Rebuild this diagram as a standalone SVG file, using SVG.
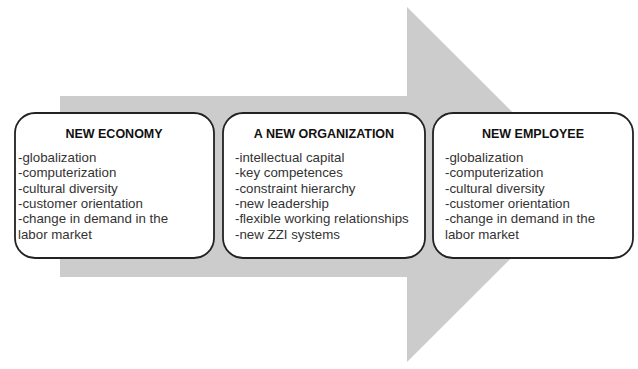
<svg xmlns="http://www.w3.org/2000/svg" width="638" height="369" viewBox="0 0 638 369">
<style>
.box{fill:#fff;stroke:#222;stroke-width:1.8}
.t{font-family:"Liberation Sans",Arial,sans-serif;font-size:12.5px;font-weight:bold;fill:#111;text-anchor:middle}
.i{font-family:"Liberation Sans",Arial,sans-serif;font-size:13.3px;fill:#333}
</style>
<rect width="638" height="369" fill="#fff"/>
<g id="arrow">
<polygon points="60,96 407,96 407,7 585,184.5 407,362 407,277 60,277" fill="#cccccc"/>
</g>
<g id="connectors"></g>
<g id="new-economy">
<rect class="box" x="15" y="113" width="199" height="145" rx="20"/>
<text class="t" x="114" y="138">NEW ECONOMY</text>
<text class="i" x="18" y="162">-globalization</text>
<text class="i" x="18" y="177.3">-computerization</text>
<text class="i" x="18" y="192.6">-cultural diversity</text>
<text class="i" x="18" y="207.9">-customer orientation</text>
<text class="i" x="18" y="223.2">-change in demand in the</text>
<text class="i" x="18" y="238.5">labor market</text>
</g>
<g id="new-organization">
<rect class="box" x="223" y="113" width="202" height="145" rx="20"/>
<text class="t" x="324" y="138">A NEW ORGANIZATION</text>
<text class="i" x="235" y="162">-intellectual capital</text>
<text class="i" x="235" y="177.3">-key competences</text>
<text class="i" x="235" y="192.6">-constraint hierarchy</text>
<text class="i" x="235" y="207.9">-new leadership</text>
<text class="i" x="235" y="223.2">-flexible working relationships</text>
<text class="i" x="235" y="238.5">-new ZZI systems</text>
</g>
<g id="new-employee">
<rect class="box" x="433" y="113" width="200" height="145" rx="20"/>
<text class="t" x="533" y="138">NEW EMPLOYEE</text>
<text class="i" x="445" y="162">-globalization</text>
<text class="i" x="445" y="177.3">-computerization</text>
<text class="i" x="445" y="192.6">-cultural diversity</text>
<text class="i" x="445" y="207.9">-customer orientation</text>
<text class="i" x="445" y="223.2">-change in demand in the</text>
<text class="i" x="445" y="238.5">labor market</text>
</g>
</svg>
